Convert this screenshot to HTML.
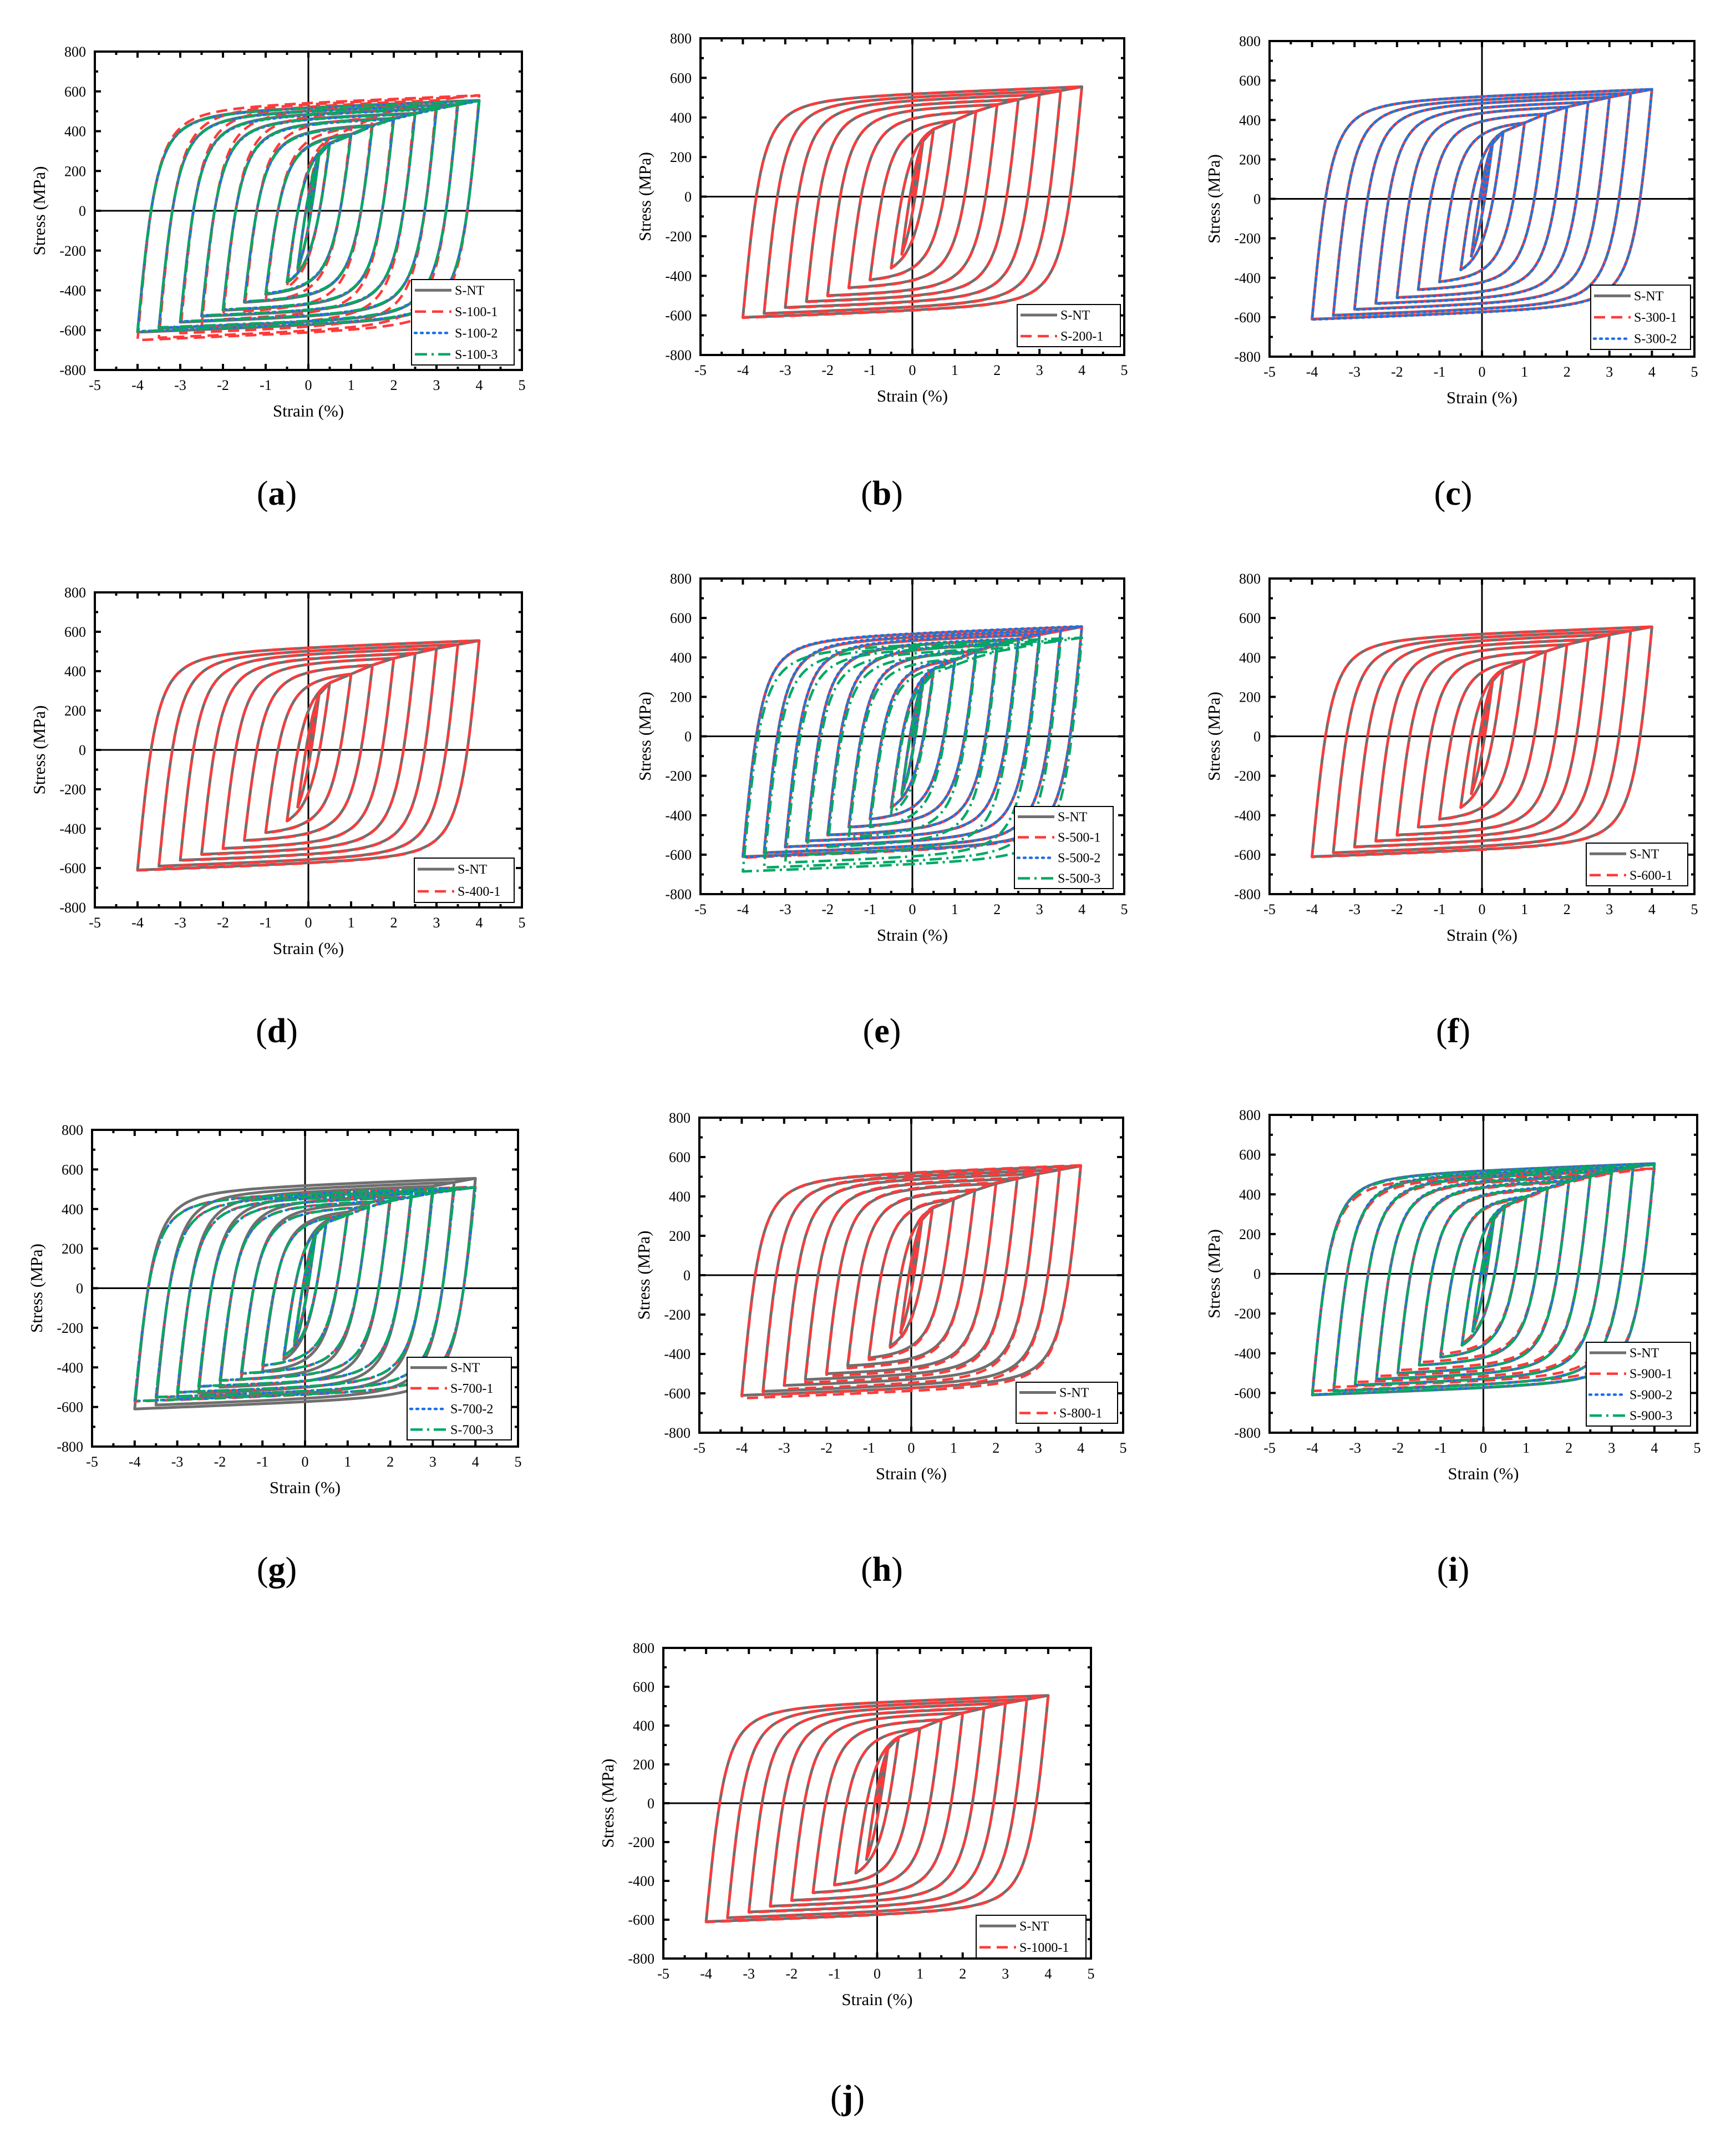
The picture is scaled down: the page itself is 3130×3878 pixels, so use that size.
<!DOCTYPE html>
<html><head><meta charset="utf-8"><style>
html,body{margin:0;padding:0;background:#fff;}
svg{display:block;}
text{font-family:"Liberation Serif","DejaVu Serif",serif;fill:#000;}
</style></head><body>
<svg id="fig" width="3130" height="3878" viewBox="0 0 3130 3878" xmlns="http://www.w3.org/2000/svg" font-family="Liberation Serif, DejaVu Serif, serif"></svg>
<script>
// ---- data ----
const strainAmps = [0.25,0.5,1,1.5,2,2.5,3,3.5,4];
const ntTension = [280,340,385,430,465,490,515,535,555];
const ntCompression = [-290,-360,-420,-460,-500,-530,-560,-590,-610];
const s100_1Tension = [300,365,415,465,505,535,555,570,580];
const s100_1Compression = [-300,-385,-455,-505,-545,-585,-615,-638,-650];
const s100_2Tension = [278,336,380,425,460,486,510,532,552];
const s100_2Compression = [-286,-356,-415,-456,-496,-526,-556,-588,-606];
const s100_3Tension = [278,335,380,425,462,487,512,532,552];
const s100_3Compression = [-286,-356,-416,-456,-496,-526,-556,-586,-606];
const s200_1Tension = [282,342,386,432,466,492,516,536,556];
const s200_1Compression = [-292,-362,-422,-462,-502,-532,-562,-592,-612];
const s300_1Tension = [280,340,385,430,465,490,515,535,555];
const s300_1Compression = [-290,-360,-420,-460,-500,-530,-560,-590,-610];
const s300_2Tension = [280,341,386,431,466,491,516,536,556];
const s300_2Compression = [-292,-362,-422,-462,-502,-532,-562,-592,-612];
const s400_1Tension = [282,342,386,432,466,492,516,536,556];
const s400_1Compression = [-292,-362,-422,-462,-502,-532,-562,-592,-612];
const s500_1Tension = [282,342,386,432,466,492,516,536,556];
const s500_1Compression = [-292,-362,-422,-462,-502,-532,-562,-592,-615];
const s500_2Tension = [285,345,390,435,470,495,520,540,558];
const s500_2Compression = [-290,-360,-420,-460,-500,-530,-560,-590,-612];
const s500_3Tension = [260,320,360,400,430,450,470,485,500];
const s500_3Compression = [-300,-390,-460,-510,-560,-600,-640,-665,-685];
const s600_1Tension = [282,342,386,432,466,492,516,536,556];
const s600_1Compression = [-292,-362,-422,-462,-502,-532,-562,-592,-612];
const s700_1Tension = [272,332,372,412,442,462,482,497,512];
const s700_1Compression = [-272,-342,-392,-432,-467,-497,-527,-552,-572];
const s700_2Tension = [270,330,370,410,440,460,480,495,510];
const s700_2Compression = [-270,-340,-390,-430,-465,-495,-525,-550,-570];
const s700_3Tension = [270,330,370,410,440,460,480,495,510];
const s700_3Compression = [-270,-340,-390,-430,-465,-495,-525,-550,-570];
const s800_1Tension = [285,345,390,435,470,495,520,540,558];
const s800_1Compression = [-295,-368,-430,-472,-512,-545,-578,-608,-625];
const s900_1Tension = [275,335,380,425,460,485,505,520,530];
const s900_1Compression = [-280,-350,-405,-445,-485,-515,-545,-570,-590];
const s900_2Tension = [285,345,390,435,470,495,520,540,555];
const s900_2Compression = [-290,-360,-420,-460,-500,-530,-560,-590,-608];
const s900_3Tension = [282,342,388,432,466,492,516,536,550];
const s900_3Compression = [-290,-360,-420,-460,-500,-530,-560,-590,-608];
const s1000_1Tension = [282,342,386,432,466,492,516,536,556];
const s1000_1Compression = [-292,-362,-422,-462,-502,-532,-562,-592,-612];
const xTicks = [-5,-4,-3,-2,-1,0,1,2,3,4,5];
const yTicks = [-800,-600,-400,-200,0,200,400,600,800];

// ---- styles ----
const STY = {
  nt:{c:'#6f6f6f',d:'',w:5},
  red:{c:'#ff3a3a',d:'20 11',w:4.5},
  blue:{c:'#1d6fe6',d:'3 8',w:4.5,cap:'round'},
  green:{c:'#00a865',d:'22 8 4 8',w:4.5}
};
const FONT='Liberation Serif, DejaVu Serif, serif';
const NS='http://www.w3.org/2000/svg';
const svg=document.getElementById('fig');
function mk(tag,attrs,parent){const e=document.createElementNS(NS,tag);for(const k in attrs)e.setAttribute(k,attrs[k]);if(tag==='text')e.setAttribute('font-family',FONT);(parent||svg).appendChild(e);return e;}

const NT={name:'S-NT',t:ntTension,c:ntCompression,s:'nt'};
const panels=[
 {id:'a',x0:171,x1:941,y0:93,y1:667,lab:[499,890],lg:[742,504,927,658],ser:[NT,{name:'S-100-1',t:s100_1Tension,c:s100_1Compression,s:'red'},{name:'S-100-2',t:s100_2Tension,c:s100_2Compression,s:'blue'},{name:'S-100-3',t:s100_3Tension,c:s100_3Compression,s:'green'}]},
 {id:'b',x0:1263,x1:2027,y0:69,y1:640,lab:[1590,890],lg:[1834,549,2020,625],ser:[NT,{name:'S-200-1',t:s200_1Tension,c:s200_1Compression,s:'red'}]},
 {id:'c',x0:2289,x1:3055,y0:74,y1:643,lab:[2620,890],lg:[2868,514,3048,630],ser:[NT,{name:'S-300-1',t:s300_1Tension,c:s300_1Compression,s:'red'},{name:'S-300-2',t:s300_2Tension,c:s300_2Compression,s:'blue'}]},
 {id:'d',x0:171,x1:941,y0:1068,y1:1636,lab:[499,1859],lg:[747,1547,927,1627],ser:[NT,{name:'S-400-1',t:s400_1Tension,c:s400_1Compression,s:'red'}]},
 {id:'e',x0:1263,x1:2027,y0:1043,y1:1612,lab:[1590,1859],lg:[1829,1454,2007,1602],ser:[NT,{name:'S-500-1',t:s500_1Tension,c:s500_1Compression,s:'red'},{name:'S-500-2',t:s500_2Tension,c:s500_2Compression,s:'blue'},{name:'S-500-3',t:s500_3Tension,c:s500_3Compression,s:'green'}]},
 {id:'f',x0:2289,x1:3055,y0:1043,y1:1612,lab:[2620,1859],lg:[2860,1520,3043,1597],ser:[NT,{name:'S-600-1',t:s600_1Tension,c:s600_1Compression,s:'red'}]},
 {id:'g',x0:166,x1:934,y0:2037,y1:2608,lab:[499,2830],lg:[734,2447,922,2596],ser:[NT,{name:'S-700-1',t:s700_1Tension,c:s700_1Compression,s:'red'},{name:'S-700-2',t:s700_2Tension,c:s700_2Compression,s:'blue'},{name:'S-700-3',t:s700_3Tension,c:s700_3Compression,s:'green'}]},
 {id:'h',x0:1261,x1:2025,y0:2015,y1:2583,lab:[1590,2830],lg:[1832,2492,2015,2566],ser:[NT,{name:'S-800-1',t:s800_1Tension,c:s800_1Compression,s:'red'}]},
 {id:'i',x0:2289,x1:3060,y0:2010,y1:2583,lab:[2620,2830],lg:[2860,2420,3048,2571],ser:[NT,{name:'S-900-1',t:s900_1Tension,c:s900_1Compression,s:'red'},{name:'S-900-2',t:s900_2Tension,c:s900_2Compression,s:'blue'},{name:'S-900-3',t:s900_3Tension,c:s900_3Compression,s:'green'}]},
 {id:'j',x0:1196,x1:1967,y0:2971,y1:3531,lab:[1528,3782],lg:[1760,3453,1958,3530],ser:[NT,{name:'S-1000-1',t:s1000_1Tension,c:s1000_1Compression,s:'red'}]}
];

// branch shape (Masing-type curve, scaled to each cycle's peaks)
function shape(x){const E=2250,K=1100,n=2.1,H=8;const ex=E*x;return ex/Math.pow(1+Math.pow(ex/K,n),1/n)+H*x;}

panels.forEach(p=>{
  const g=mk('g',{});
  
  
  const sx=v=>p.x0+(v+5)/10*(p.x1-p.x0);
  const sy=v=>p.y1-(v+800)/1600*(p.y1-p.y0);
  const cid='clip-'+p.id;
  const cp=mk('clipPath',{id:cid},g);mk('rect',{x:p.x0,y:p.y0,width:p.x1-p.x0,height:p.y1-p.y0},cp);
  const ax=mk('line',{x1:sx(0),x2:sx(0),y1:p.y0,y2:p.y1,stroke:'#000','stroke-width':3},g);
  
  const ay=mk('line',{x1:p.x0,x2:p.x1,y1:sy(0),y2:sy(0),stroke:'#000','stroke-width':3},g);
  
  const sg=mk('g',{'clip-path':'url(#'+cid+')'},g);
  p.ser.forEach(s=>{
    const st=STY[s.s];let d='';
    const N=70;
    strainAmps.forEach((A,i)=>{
      const T=s.t[i],C=s.c[i],R=T-C,F=shape(2*A);
      if(i===0){d+='M'+sx(0).toFixed(1)+' '+sy(0).toFixed(1);
        for(let k=1;k<=N;k++){const u=Math.pow(k/N,2)*A;d+='L'+sx(u).toFixed(1)+' '+sy(T*shape(u)/shape(A)).toFixed(1);} }
      for(let k=0;k<=N;k++){const u=Math.pow(k/N,2)*2*A;d+='L'+sx(A-u).toFixed(1)+' '+sy(T-R*shape(u)/F).toFixed(1);}
      for(let k=0;k<=N;k++){const u=Math.pow(k/N,2)*2*A;d+='L'+sx(-A+u).toFixed(1)+' '+sy(C+R*shape(u)/F).toFixed(1);}
    });
    const path=mk('path',{d:d,fill:'none',stroke:st.c,'stroke-width':st.w,'stroke-dasharray':st.d,'stroke-linecap':st.cap||'butt','stroke-linejoin':'round'},sg);
    
    
  });
  const fr=mk('rect',{x:p.x0,y:p.y0,width:p.x1-p.x0,height:p.y1-p.y0,fill:'none',stroke:'#000','stroke-width':4},g);
  
  let td='';
  for(let v=-5;v<=5;v+=0.5){const L=(v%1===0)?11:6;const X=sx(v);td+=`M${X} ${p.y1}v${-L}M${X} ${p.y0}v${L}`;}
  for(let v=-800;v<=800;v+=100){const L=(v%200===0)?11:6;const Y=sy(v);td+=`M${p.x0} ${Y}h${L}M${p.x1} ${Y}h${-L}`;}
  const tk=mk('path',{d:td,stroke:'#000','stroke-width':4,fill:'none'},g);
  
  xTicks.forEach(v=>{const t=mk('text',{x:sx(v),y:p.y1+36,'font-size':26,'text-anchor':'middle'},g);t.textContent=String(v);
    });
  yTicks.forEach(v=>{const t=mk('text',{x:p.x0-16,y:sy(v)+9,'font-size':26,'text-anchor':'end'},g);t.textContent=String(v);
    });
  const xt=mk('text',{x:(p.x0+p.x1)/2,y:p.y1+84,'font-size':31,'text-anchor':'middle'},g);xt.textContent='Strain (%)';
  
  const yx=p.x0-90,yc=(p.y0+p.y1)/2;
  const yt=mk('text',{x:yx,y:yc,'font-size':31,'text-anchor':'middle',transform:`rotate(-90 ${yx} ${yc})`},g);yt.textContent='Stress (MPa)';
  
  const [lx0,ly0,lx1,ly1]=p.lg;
  const lg=mk('g',{},g);
  mk('rect',{x:lx0,y:ly0,width:lx1-lx0,height:ly1-ly0,fill:'#fff',stroke:'#000','stroke-width':2},lg);
  const rh=(ly1-ly0)/p.ser.length;
  p.ser.forEach((s,i)=>{const st=STY[s.s];const cy=ly0+rh*(i+0.5);
    const ln=mk('line',{x1:lx0+6,x2:lx0+72,y1:cy,y2:cy,stroke:st.c,'stroke-width':st.w,'stroke-dasharray':st.d,'stroke-linecap':st.cap||'butt'},lg);
    
    const t=mk('text',{x:lx0+78,y:cy+8,'font-size':24},lg);t.textContent=s.name;
    });
  const pl=mk('text',{x:p.lab[0],y:p.lab[1]+20,'font-size':62,'text-anchor':'middle'},g);
  
  const t1=mk('tspan',{},pl);t1.textContent='(';
  const t2=mk('tspan',{'font-weight':'bold'},pl);t2.textContent=p.id;
  const t3=mk('tspan',{},pl);t3.textContent=')';
});
</script>
</body></html>
